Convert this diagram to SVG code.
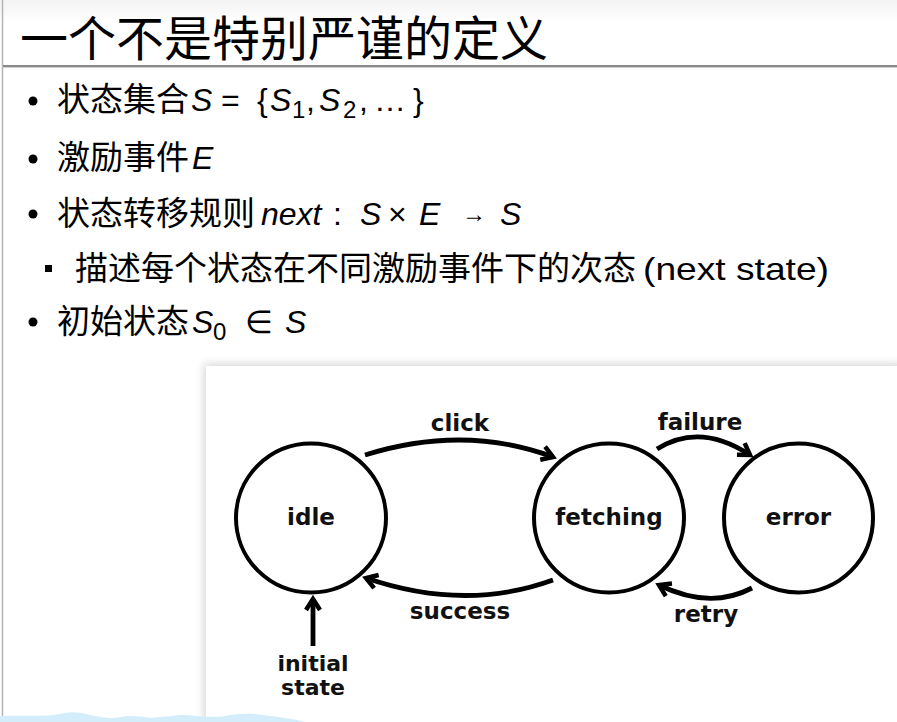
<svg xmlns="http://www.w3.org/2000/svg" width="897" height="722" viewBox="0 0 897 722">
  <defs>
    <linearGradient id="topBand" x1="0" y1="0" x2="0" y2="1">
      <stop offset="0" stop-color="#f3f3f3"/>
      <stop offset="1" stop-color="#ffffff"/>
    </linearGradient>
    <filter id="soft" x="-10%" y="-10%" width="120%" height="120%">
      <feGaussianBlur stdDeviation="5"/>
    </filter>
    <marker id="chev" viewBox="-15 -10 20 20" markerWidth="20" markerHeight="20" refX="0" refY="0" orient="auto" markerUnits="userSpaceOnUse">
      <path d="M-11,-7 L0,0 L-11,7" fill="none" stroke="#000" stroke-width="4.5" stroke-linejoin="miter" stroke-linecap="butt"/>
    </marker>
    <style>
      .title { font-family: "Noto Sans CJK SC", "Liberation Sans", sans-serif; font-size: 48px; fill: #000; }
      .cjk { font-family: "Noto Sans CJK SC", "Liberation Sans", sans-serif; font-size: 33px; fill: #000; }
      .lat { font-family: "Liberation Sans", "DejaVu Sans", sans-serif; font-size: 32px; fill: #000; }
      .it { font-style: italic; }
      .sub { font-family: "Liberation Sans", "DejaVu Sans", sans-serif; font-size: 24px; fill: #000; }
      .node-ring { fill: none; stroke: #000; stroke-width: 4; }
      .lbl { font-family: "DejaVu Sans", "Liberation Sans", sans-serif; font-weight: bold; font-size: 23px; fill: #111; text-anchor: middle; }
      .lbl-s { font-family: "DejaVu Sans", "Liberation Sans", sans-serif; font-weight: bold; font-size: 22px; fill: #111; text-anchor: middle; }
      .edge { fill: none; stroke: #000; stroke-width: 4.8; stroke-linecap: butt; marker-end: url(#chev); }
    </style>
  </defs>

  <!-- page background -->
  <rect x="0" y="0" width="897" height="722" fill="#ffffff"/>
  <rect x="0" y="0" width="897" height="22" fill="url(#topBand)"/>
  <line x1="2.5" y1="0" x2="2.5" y2="722" stroke="#b4b4b4" stroke-width="1.5"/>
  <line x1="3" y1="66" x2="897" y2="66" stroke="#8a8a8a" stroke-width="2"/>
  <line x1="3" y1="67.5" x2="897" y2="67.5" stroke="#cfcfcf" stroke-width="1"/>

  <!-- heading -->
  <text class="title" x="20" y="56">一个不是特别严谨的定义</text>

  <!-- bullet list -->
  <g id="bullets">
    <circle cx="33" cy="101" r="4.5" fill="#000"/>
    <circle cx="33" cy="159" r="4.5" fill="#000"/>
    <circle cx="33" cy="214" r="4.5" fill="#000"/>
    <rect x="45" y="265" width="7" height="7" fill="#000"/>
    <circle cx="33" cy="322" r="4.5" fill="#000"/>
  </g>

  <g id="line1">
    <text class="cjk" x="57" y="110.5">状态集合</text>
    <text class="lat it" x="191" y="110.5">S</text>
    <text class="lat" x="221" y="110.5">=</text>
    <text class="lat" x="257" y="110.5">{</text>
    <text class="lat it" x="270" y="110.5">S</text>
    <text class="sub" x="292" y="118">1</text>
    <text class="lat" x="306" y="110.5">,</text>
    <text class="lat it" x="319" y="110.5">S</text>
    <text class="sub" x="343" y="118">2</text>
    <text class="lat" x="359" y="110.5">,</text>
    <text class="lat" x="374" y="110.5">…</text>
    <text class="lat" x="413" y="110.5">}</text>
  </g>

  <g id="line2">
    <text class="cjk" x="57" y="169">激励事件</text>
    <text class="lat it" x="192" y="169">E</text>
  </g>

  <g id="line3">
    <text class="cjk" x="57" y="224.5">状态转移规则</text>
    <text class="lat it" x="261" y="224.5">next</text>
    <text class="lat" x="333" y="224.5">:</text>
    <text class="lat it" x="360" y="224.5">S</text>
    <text class="lat" x="388" y="224.5">×</text>
    <text class="lat it" x="419" y="224.5">E</text>
    <text class="sub" x="462" y="222">→</text>
    <text class="lat it" x="500" y="224.5">S</text>
  </g>

  <g id="line4">
    <text class="cjk" x="75" y="280">描述每个状态在不同激励事件下的次态</text>
    <text class="lat" x="643" y="280" textLength="186" lengthAdjust="spacingAndGlyphs">(next state)</text>
  </g>

  <g id="line5">
    <text class="cjk" x="57" y="333">初始状态</text>
    <text class="lat it" x="192" y="333">S</text>
    <text class="sub" x="213" y="340">0</text>
    <text class="lat" x="245" y="333">∈</text>
    <text class="lat it" x="285" y="333">S</text>
  </g>

  <!-- state machine panel -->
  <rect x="204" y="364" width="700" height="370" fill="#d6d6d6" filter="url(#soft)"/>
  <rect x="206" y="366" width="691" height="356" fill="#ffffff"/>

  <!-- light blue strip along the bottom edge -->
  <path d="M0,722 L0,716 C20,715 45,717 60,714 C70,711 80,712 90,715 C105,718 112,719 120,717 C130,715 140,716 150,718 C165,717 175,715 185,715 C200,716 210,718 225,716 C240,713 255,713 270,716 C285,718 295,719 305,722 Z" fill="#d3eefa"/>

  <g id="connectors">
    <path class="edge" d="M365,455 Q464,424 553,457"/>
    <path class="edge" d="M657,449 Q700,422 750,455"/>
    <path class="edge" d="M553,580 Q465,612 366,578"/>
    <path class="edge" d="M752,588 Q710,610 659,585"/>
    <path class="edge" d="M313,646 L313,599"/>
  </g>

  <g id="idle">
    <ellipse class="node-ring" cx="311" cy="518" rx="75" ry="74.5"/>
    <text class="lbl" x="311" y="525">idle</text>
  </g>
  <g id="fetching">
    <ellipse class="node-ring" cx="609" cy="518" rx="75" ry="74.5"/>
    <text class="lbl" x="609" y="525">fetching</text>
  </g>
  <g id="error">
    <ellipse class="node-ring" cx="798.5" cy="518" rx="74.5" ry="74.5"/>
    <text class="lbl" x="798.5" y="525">error</text>
  </g>

  <g id="edge-labels">
    <text class="lbl" x="460" y="431">click</text>
    <text class="lbl" x="700" y="430">failure</text>
    <text class="lbl" x="460" y="619">success</text>
    <text class="lbl" x="706" y="622">retry</text>
    <text class="lbl-s" x="313" y="671">initial<tspan x="313" dy="24">state</tspan></text>
  </g>
</svg>
